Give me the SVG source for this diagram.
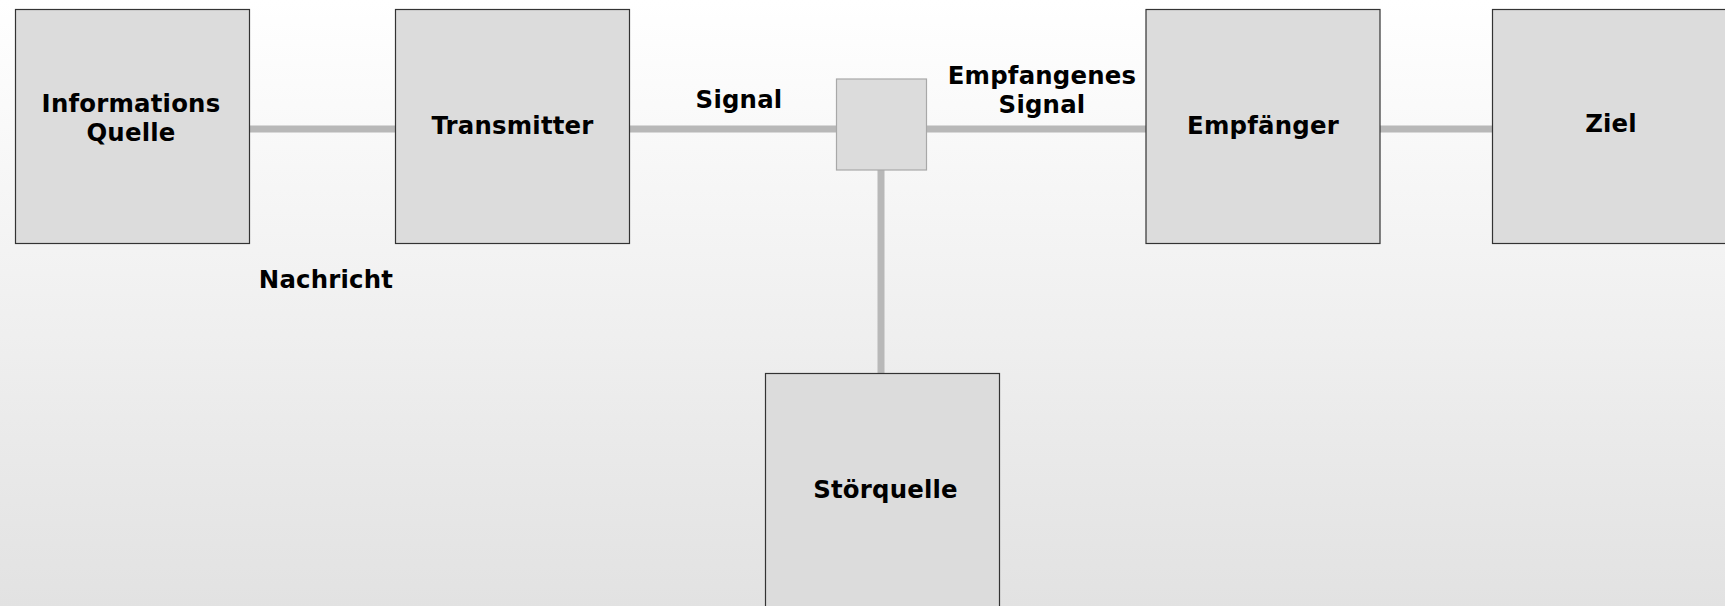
<svg xmlns="http://www.w3.org/2000/svg" width="1725" height="606" viewBox="0 0 1725 606">
<defs>
<linearGradient id="bg" x1="0" y1="0" x2="0" y2="1">
<stop offset="0" stop-color="#ffffff"/>
<stop offset="1" stop-color="#e2e2e2"/>
</linearGradient>
</defs>
<style>
.box{fill:#dcdcdc;stroke:#333333;stroke-width:1.2}
.jn{fill:#dcdcdc;stroke:#a8a8a8;stroke-width:1.2}
.ln{stroke:#b8b8b8;stroke-width:7;fill:none}
text{font-family:"DejaVu Sans",sans-serif;font-weight:bold;font-size:24.4px;letter-spacing:0.2px;fill:#000;text-anchor:middle}
</style>
<rect width="1725" height="606" fill="url(#bg)"/>
<g id="connectors">
<line class="ln" x1="249" y1="129" x2="395" y2="129"/>
<line class="ln" x1="629" y1="129" x2="837" y2="129"/>
<line class="ln" x1="926" y1="129" x2="1146" y2="129"/>
<line class="ln" x1="1380" y1="129" x2="1493" y2="129"/>
<line class="ln" x1="881" y1="170" x2="881" y2="374"/>
</g>
<g id="info"><rect class="box" x="15.5" y="9.5" width="234" height="234"/>
<text x="131" y="112">Informations</text><text x="131" y="141">Quelle</text></g>
<g id="transmitter"><rect class="box" x="395.5" y="9.5" width="234" height="234"/>
<text x="512.5" y="134">Transmitter</text></g>
<g id="junction"><rect class="jn" x="836.5" y="79" width="90" height="91"/></g>
<g id="empfaenger"><rect class="box" x="1146" y="9.5" width="234" height="234"/>
<text x="1263" y="134">Empfänger</text></g>
<g id="ziel"><rect class="box" x="1492.5" y="9.5" width="234" height="234"/>
<text x="1611" y="132">Ziel</text></g>
<g id="stoerquelle"><rect class="box" x="765.5" y="373.5" width="234" height="234"/>
<text x="885.5" y="498">Störquelle</text></g>
<g id="labels">
<text x="326" y="288">Nachricht</text>
<text x="739" y="108">Signal</text>
<text x="1042" y="84">Empfangenes</text>
<text x="1042" y="113">Signal</text>
</g>
</svg>
